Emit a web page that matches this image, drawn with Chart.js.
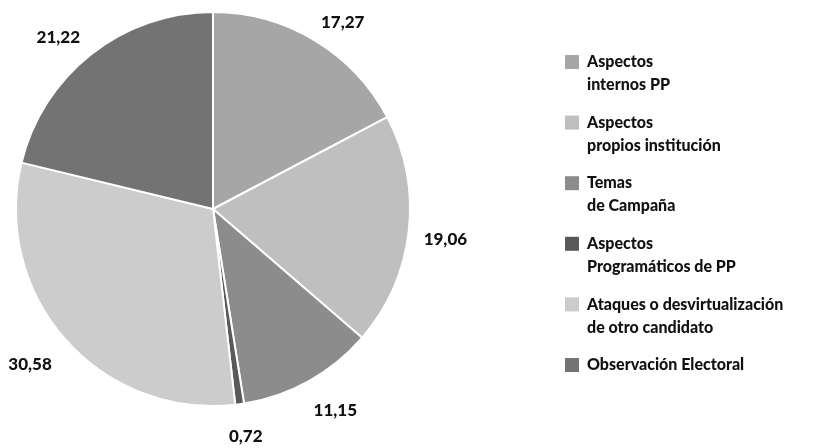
<!DOCTYPE html>
<html>
<head>
<meta charset="utf-8">
<script src="https://cdn.jsdelivr.net/npm/chart.js@4/dist/chart.umd.min.js"></script>
<style>
  html, body { margin: 0; padding: 0; background: #ffffff; }
  #wrap { width: 815px; height: 448px; }
</style>
</head>
<body>
<div id="wrap"><canvas id="pie" width="815" height="448"></canvas></div>
<script>
// Categories (each one split into the lines shown in the legend)
const categories = [
  ["Aspectos", "internos PP"],
  ["Aspectos", "propios institución"],
  ["Temas", "de Campaña"],
  ["Aspectos", "Programáticos de PP"],
  ["Ataques o desvirtualización", "de otro candidato"],
  ["Observación Electoral"]
];
// Share of each category (%)
const values = [17.27, 19.06, 11.15, 0.72, 30.58, 21.22];
// Slice fills
const colors = ["#a6a6a6", "#bfbfbf", "#8c8c8c", "#595959", "#cccccc", "#737373"];

const LEGEND_FONT = "900 16px Lato, 'Open Sans', sans-serif";
const VALUE_FONT = "900 17px Lato, 'Open Sans', sans-serif";
const fmt = v => v.toFixed(2).replace(".", ",");
const clamp = v => Math.max(-1, Math.min(1, v));

// Value labels outside each slice: the label box is pushed out from a point
// just beyond the rim, on the side the slice's mid angle points to.
const outsideLabels = {
  id: "outsideLabels",
  afterDatasetsDraw(chart) {
    const ctx = chart.ctx;
    const meta = chart.getDatasetMeta(0);
    ctx.save();
    ctx.font = VALUE_FONT;
    ctx.fillStyle = "#111111";
    ctx.textAlign = "center";
    ctx.textBaseline = "middle";
    const h = 13;
    meta.data.forEach((arc, i) => {
      const p = arc.getProps(["x", "y", "startAngle", "endAngle", "outerRadius"], true);
      const mid = (p.startAngle + p.endAngle) / 2;
      const dx = Math.cos(mid), dy = Math.sin(mid);
      const text = fmt(values[i]);
      const w = ctx.measureText(text).width;
      const R = p.outerRadius + 18;
      const x = p.x + dx * R + (w / 2) * clamp(dx * 1.8) - 3 * Math.max(dx, 0);
      const y = p.y + dy * R + (h / 2) * clamp(dy * 2) + 4 + 4 * Math.max(dy, 0);
      ctx.fillText(text, x, y);
    });
    ctx.restore();
  }
};

// Legend on the right with two-line entries
const sideLegend = {
  id: "sideLegend",
  afterDraw(chart) {
    const ctx = chart.ctx;
    const x0 = 565, top = 55, step = 60.6, box = 14, lineH = 23;
    ctx.save();
    ctx.font = LEGEND_FONT;
    ctx.textAlign = "left";
    ctx.textBaseline = "middle";
    categories.forEach((lines, i) => {
      const y = top + i * step;
      ctx.fillStyle = colors[i];
      ctx.fillRect(x0, y, box, box);
      ctx.fillStyle = "#111111";
      lines.forEach((t, j) => ctx.fillText(t, x0 + 22, y + box / 2 + j * lineH));
    });
    ctx.restore();
  }
};

new Chart(document.getElementById("pie"), {
  type: "pie",
  data: {
    labels: categories,
    datasets: [{
      data: values,
      backgroundColor: colors,
      borderColor: "#ffffff",
      borderWidth: 2
    }]
  },
  options: {
    responsive: false,
    animation: false,
    layout: { padding: { left: 15, right: 404, top: 11, bottom: 41 } },
    plugins: {
      legend: { display: false },
      tooltip: { enabled: false }
    }
  },
  plugins: [outsideLabels, sideLegend]
});
</script>
</body>
</html>
